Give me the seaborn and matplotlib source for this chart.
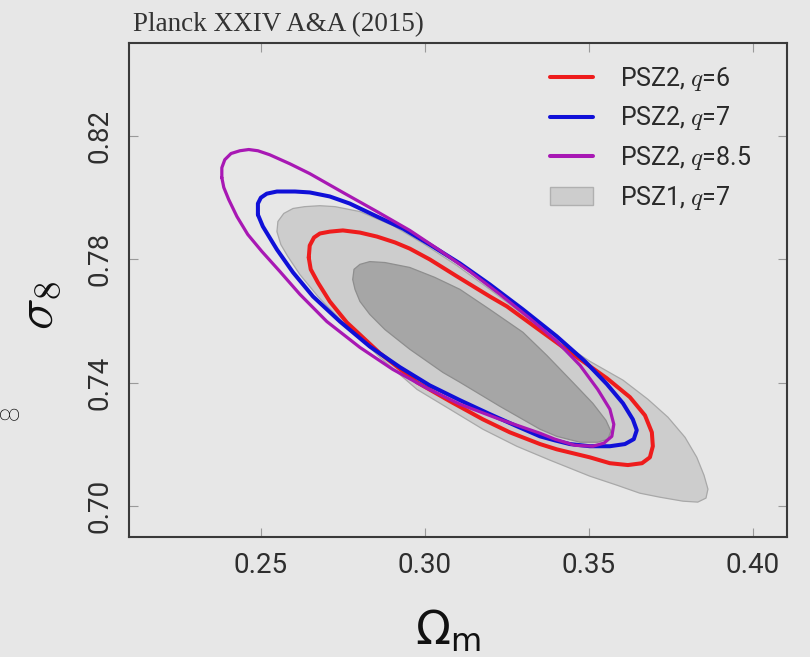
import numpy as np
import pandas as pd
import matplotlib
matplotlib.use('Agg')
import matplotlib.pyplot as plt
import seaborn as sns
from matplotlib.lines import Line2D
from matplotlib.patches import Patch
from matplotlib.font_manager import FontProperties

# ---------------- data ----------------
x_ticks = [0.25, 0.30, 0.35, 0.40]
y_ticks = [0.70, 0.74, 0.78, 0.82]
x_tick_labels = ["0.25", "0.30", "0.35", "0.40"]
y_tick_labels = ["0.70", "0.74", "0.78", "0.82"]

labels = ["PSZ2, $q$=6", "PSZ2, $q$=7", "PSZ2, $q$=8.5", "PSZ1, $q$=7"]

# PSZ2 q=6 contour (red)
q6_om = [0.2646, 0.2649, 0.2662, 0.2680, 0.2710, 0.2750, 0.2802, 0.2854, 0.2909, 0.2954,
         0.3015, 0.3098, 0.3198, 0.3250, 0.3351, 0.3451, 0.3555, 0.3625, 0.3671, 0.3692,
         0.3695, 0.3686, 0.3662, 0.3619, 0.3564, 0.3503, 0.3402, 0.3351, 0.3259, 0.3177,
         0.3076, 0.2976, 0.2863, 0.2762, 0.2710, 0.2674, 0.2652]
q6_s8 = [0.7805, 0.7844, 0.7870, 0.7883, 0.7889, 0.7893, 0.7886, 0.7873, 0.7854, 0.7834,
         0.7799, 0.7744, 0.7679, 0.7647, 0.7569, 0.7492, 0.7414, 0.7353, 0.7294, 0.7239,
         0.7194, 0.7158, 0.7139, 0.7133, 0.7139, 0.7158, 0.7184, 0.7201, 0.7239, 0.7281,
         0.7340, 0.7401, 0.7495, 0.7595, 0.7663, 0.7724, 0.7767]

# PSZ2 q=7 contour (blue)
q7_om = [0.2491, 0.2491, 0.2500, 0.2518, 0.2549, 0.2604, 0.2649, 0.2710, 0.2771, 0.2854,
         0.2933, 0.3015, 0.3107, 0.3198, 0.3299, 0.3402, 0.3488, 0.3555, 0.3604, 0.3634,
         0.3646, 0.3637, 0.3610, 0.3564, 0.3503, 0.3442, 0.3396, 0.3351, 0.3280, 0.3198,
         0.3107, 0.3015, 0.2924, 0.2832, 0.2741, 0.2659, 0.2598, 0.2549, 0.2506]
q7_s8 = [0.7944, 0.7980, 0.7999, 0.8012, 0.8019, 0.8019, 0.8016, 0.8003, 0.7980, 0.7938,
         0.7899, 0.7847, 0.7786, 0.7718, 0.7637, 0.7550, 0.7469, 0.7395, 0.7333, 0.7281,
         0.7246, 0.7217, 0.7201, 0.7194, 0.7194, 0.7201, 0.7213, 0.7226, 0.7259, 0.7298,
         0.7343, 0.7391, 0.7450, 0.7517, 0.7598, 0.7679, 0.7757, 0.7831, 0.7906]

# PSZ2 q=8.5 contour (purple)
q85_om = [0.2381, 0.2381, 0.2390, 0.2409, 0.2436, 0.2463, 0.2491, 0.2527, 0.2588, 0.2649,
          0.2750, 0.2854, 0.2954, 0.3046, 0.3137, 0.3229, 0.3320, 0.3402, 0.3473, 0.3527,
          0.3564, 0.3576, 0.3570, 0.3546, 0.3512, 0.3457, 0.3396, 0.3351, 0.3229, 0.3107,
          0.3006, 0.2902, 0.2802, 0.2701, 0.2619, 0.2558, 0.2503, 0.2460, 0.2427, 0.2402,
          0.2387]
q85_s8 = [0.8064, 0.8096, 0.8122, 0.8142, 0.8151, 0.8155, 0.8151, 0.8138, 0.8109, 0.8077,
          0.8016, 0.7954, 0.7893, 0.7828, 0.7760, 0.7686, 0.7608, 0.7534, 0.7456, 0.7378,
          0.7314, 0.7265, 0.7226, 0.7204, 0.7194, 0.7197, 0.7217, 0.7236, 0.7281, 0.7330,
          0.7382, 0.7443, 0.7514, 0.7598, 0.7686, 0.7760, 0.7825, 0.7880, 0.7938, 0.7993,
          0.8032]

# PSZ1 q=7, outer region
psz1_outer_om = [0.2549, 0.2552, 0.2570, 0.2598, 0.2634, 0.2680, 0.2726, 0.2802, 0.2902, 0.2994,
                 0.3098, 0.3198, 0.3299, 0.3402, 0.3503, 0.3604, 0.3680, 0.3741, 0.3793, 0.3829,
                 0.3851, 0.3863, 0.3857, 0.3832, 0.3787, 0.3716, 0.3655, 0.3585, 0.3503, 0.3381,
                 0.3280, 0.3177, 0.3076, 0.2976, 0.2863, 0.2756, 0.2674, 0.2619, 0.2582, 0.2561]
psz1_outer_s8 = [0.7889, 0.7922, 0.7948, 0.7964, 0.7970, 0.7973, 0.7970, 0.7954, 0.7909, 0.7851,
                 0.7779, 0.7702, 0.7621, 0.7540, 0.7469, 0.7408, 0.7346, 0.7288, 0.7223, 0.7158,
                 0.7100, 0.7055, 0.7026, 0.7013, 0.7016, 0.7029, 0.7042, 0.7068, 0.7097, 0.7149,
                 0.7194, 0.7249, 0.7314, 0.7378, 0.7482, 0.7589, 0.7679, 0.7750, 0.7809, 0.7847]

# PSZ1 q=7, inner region
psz1_inner_om = [0.2780, 0.2784, 0.2802, 0.2832, 0.2878, 0.2954, 0.3030, 0.3107, 0.3198, 0.3299,
                 0.3372, 0.3451, 0.3512, 0.3552, 0.3567, 0.3558, 0.3527, 0.3473, 0.3402, 0.3351,
                 0.3229, 0.3107, 0.3055, 0.2954, 0.2878, 0.2832, 0.2802, 0.2787]
psz1_inner_s8 = [0.7734, 0.7767, 0.7783, 0.7792, 0.7789, 0.7773, 0.7741, 0.7702, 0.7637, 0.7563,
                 0.7488, 0.7401, 0.7333, 0.7278, 0.7243, 0.7217, 0.7207, 0.7207, 0.7226, 0.7249,
                 0.7323, 0.7401, 0.7433, 0.7508, 0.7572, 0.7621, 0.7663, 0.7702]

# ---------------- style ----------------
BG = "#e7e7e7"
RED = "#ee1c1c"
BLUE = "#1010d8"
PURPLE = "#a818b4"
LIGHT = "#cdcdcd"
DARK = "#a6a6a6"

sns.set_theme(style="white", rc={"axes.facecolor": BG, "figure.facecolor": BG,
                                 "savefig.facecolor": BG})
plt.rcParams["font.family"] = ["Roboto", "DejaVu Sans"]

fig = plt.figure(figsize=(8.1, 6.57), dpi=100)
ax = fig.add_axes([129 / 810, 1 - 537 / 657, 658 / 810, 494 / 657])
ax.set_facecolor(BG)

# filled PSZ1 regions
ax.fill(psz1_outer_om, psz1_outer_s8, facecolor=LIGHT, edgecolor="#a8a8a8", lw=0.9,
        joinstyle="round", zorder=1)
ax.fill(psz1_inner_om, psz1_inner_s8, facecolor=DARK, edgecolor="#8e8e8e", lw=0.9,
        joinstyle="round", zorder=2)

contours = [
    (q6_om, q6_s8, RED, 2.9),
    (q7_om, q7_s8, BLUE, 2.9),
    (q85_om, q85_s8, PURPLE, 2.3),
]
for i, (om, s8, col, lw) in enumerate(contours):
    df = pd.DataFrame({"om": list(om) + [om[0]], "s8": list(s8) + [s8[0]]})
    sns.lineplot(data=df, x="om", y="s8", sort=False, estimator=None, color=col,
                 lw=lw, ax=ax, zorder=3 + i, solid_joinstyle="round", solid_capstyle="round")

ax.set_xlabel("")
ax.set_ylabel("")
ax.set_xlim(0.2098, 0.4104)
ax.set_ylim(0.690, 0.850)

ax.set_xticks(x_ticks)
ax.set_xticklabels(x_tick_labels)
ax.set_yticks(y_ticks)
ax.set_yticklabels(y_tick_labels)
ax.tick_params(direction="in", length=6.5, width=0.8, color="#9a9a9a",
               top=True, right=True, bottom=True, left=True,
               labelsize=20, labelcolor="#2e2e2e")
ax.tick_params(axis="x", pad=11)
ax.tick_params(axis="y", pad=11)
for lbl in ax.get_xticklabels() + ax.get_yticklabels():
    lbl.set_fontweight("normal")
for lbl in ax.get_yticklabels():
    lbl.set_rotation(90)
    lbl.set_va("center")

for sp in ax.spines.values():
    sp.set_visible(True)
    sp.set_color("#3a3a3a")
    sp.set_linewidth(1.5)

# legend
handles = [Line2D([], [], color=RED, lw=2.9),
           Line2D([], [], color=BLUE, lw=2.9),
           Line2D([], [], color=PURPLE, lw=2.9),
           Patch(facecolor=LIGHT, edgecolor="#b0b0b0")]
prop = FontProperties(family=["Roboto", "DejaVu Sans"], weight="normal", size=18,
                      math_fontfamily="cm")
leg = fig.legend(handles, labels, loc="upper left", bbox_to_anchor=(550 / 810, 1 - 65 / 657),
                 frameon=False, prop=prop, handlelength=1.7, handletextpad=1.1,
                 labelspacing=0.46, borderpad=0, borderaxespad=0)
for t in leg.get_texts():
    t.set_color("#2a2a2a")

# texts
fig.text(133 / 810, 1 - 31 / 657, "Planck XXIV A&A (2015)", family="Liberation Serif",
         size=19.5, color="#333333", ha="left", va="baseline")
fig.text(448 / 810, 1 - 645 / 657, r"$\Omega_{\mathrm{m}}$", size=33, ha="center",
         va="baseline", color="#111111", math_fontfamily="dejavusans")
fig.text(38 / 810, 1 - 305 / 657, r"$\sigma_8$", size=38, rotation=90, ha="center",
         va="center", color="#111111", math_fontfamily="cm")
fig.text(0 / 810, 1 - 413 / 657, "8", size=19, rotation=90, ha="left", va="center",
         color="#111111", fontweight="light")

fig.savefig("out.png", dpi=100, facecolor=BG)
